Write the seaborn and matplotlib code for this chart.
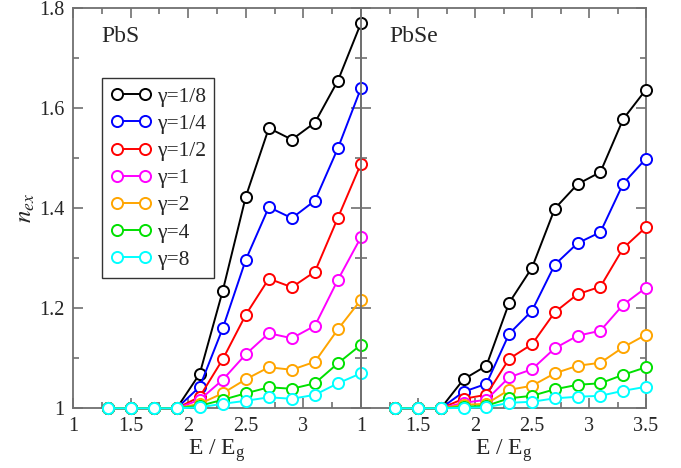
import numpy as np
import pandas as pd
import matplotlib
matplotlib.use("Agg")
import matplotlib.pyplot as plt
import seaborn as sns

# ---- data ----
energy = [1.3, 1.5, 1.7, 1.9, 2.1, 2.3, 2.5, 2.7, 2.9, 3.1, 3.3, 3.5]
gammas = ["γ=1/8", "γ=1/4", "γ=1/2", "γ=1", "γ=2", "γ=4", "γ=8"]
colors = ["#000000", "#0000ff", "#ff0000", "#ff00ff", "#ffa500", "#00e000", "#00ffff"]

pbs_g1_8 = [1.0, 1.0, 1.0, 1.0, 1.069, 1.235, 1.423, 1.560, 1.537, 1.571, 1.655, 1.770]
pbs_g1_4 = [1.0, 1.0, 1.0, 1.0, 1.043, 1.160, 1.297, 1.402, 1.380, 1.415, 1.520, 1.640]
pbs_g1_2 = [1.0, 1.0, 1.0, 1.0, 1.023, 1.098, 1.187, 1.259, 1.242, 1.273, 1.381, 1.489]
pbs_g1 = [1.0, 1.0, 1.0, 1.0, 1.017, 1.057, 1.108, 1.150, 1.140, 1.165, 1.257, 1.342]
pbs_g2 = [1.0, 1.0, 1.0, 1.0, 1.009, 1.030, 1.058, 1.082, 1.077, 1.093, 1.158, 1.217]
pbs_g4 = [1.0, 1.0, 1.0, 1.0, 1.005, 1.017, 1.030, 1.042, 1.039, 1.050, 1.090, 1.127]
pbs_g8 = [1.0, 1.0, 1.0, 1.0, 1.002, 1.009, 1.015, 1.022, 1.019, 1.027, 1.050, 1.070]

pbse_g1_8 = [1.0, 1.0, 1.0, 1.058, 1.085, 1.211, 1.281, 1.399, 1.448, 1.472, 1.578, 1.637]
pbse_g1_4 = [1.0, 1.0, 1.0, 1.033, 1.049, 1.149, 1.195, 1.287, 1.330, 1.352, 1.449, 1.499]
pbse_g1_2 = [1.0, 1.0, 1.0, 1.019, 1.027, 1.099, 1.128, 1.192, 1.228, 1.243, 1.320, 1.362]
pbse_g1 = [1.0, 1.0, 1.0, 1.011, 1.017, 1.062, 1.078, 1.120, 1.145, 1.155, 1.207, 1.241]
pbse_g2 = [1.0, 1.0, 1.0, 1.007, 1.009, 1.037, 1.045, 1.070, 1.085, 1.091, 1.122, 1.147]
pbse_g4 = [1.0, 1.0, 1.0, 1.003, 1.005, 1.020, 1.025, 1.038, 1.047, 1.050, 1.067, 1.082]
pbse_g8 = [1.0, 1.0, 1.0, 1.001, 1.002, 1.011, 1.013, 1.020, 1.023, 1.025, 1.035, 1.043]

pbs_series = [pbs_g1_8, pbs_g1_4, pbs_g1_2, pbs_g1, pbs_g2, pbs_g4, pbs_g8]
pbse_series = [pbse_g1_8, pbse_g1_4, pbse_g1_2, pbse_g1, pbse_g2, pbse_g4, pbse_g8]

xticks = [1, 1.5, 2, 2.5, 3, 3.5]
left_xlabels = ["1", "1.5", "2", "2.5", "3", ""]
right_xlabels = ["1", "1.5", "2", "2.5", "3", "3.5"]
yticks = [1.0, 1.2, 1.4, 1.6, 1.8]
ylabels = ["1", "1.2", "1.4", "1.6", "1.8"]

# ---- style ----
sns.set_style("ticks")
plt.rcParams["font.family"] = ["Liberation Serif", "DejaVu Serif"]
plt.rcParams["mathtext.fontset"] = "stix"

fig = plt.figure(figsize=(6.81, 4.68), dpi=100)
ax1 = fig.add_axes([73 / 681, 1 - 408.3 / 468, 288 / 681, 400.3 / 468])
ax2 = fig.add_axes([361 / 681, 1 - 408.3 / 468, 285 / 681, 400.3 / 468])
ax2.patch.set_facecolor("none")

spine_col = "#707070"


def draw(ax, series):
    for vals, name, col in zip(series, gammas, colors):
        df = pd.DataFrame({"E": energy, "n": vals})
        sns.lineplot(data=df, x="E", y="n", ax=ax, color=col, linewidth=1.4,
                     marker="o", markersize=8, markerfacecolor="white",
                     markeredgecolor=col, markeredgewidth=1.4, legend=False,
                     clip_on=False, zorder=3)
    ax.set_xlim(1, 3.5)
    ax.set_ylim(1, 1.8)
    ax.set_xticks(xticks)
    ax.set_xticks(np.arange(1, 3.51, 0.25), minor=True)
    ax.set_yticks(yticks)
    ax.set_yticks(np.arange(1, 1.81, 0.1), minor=True)
    ax.tick_params(which="both", direction="in", top=True, right=True,
                   color=spine_col, width=1.2, labelsize=14.5, pad=6)
    ax.tick_params(which="major", length=7)
    ax.tick_params(which="minor", length=4)
    for s in ax.spines.values():
        s.set_color(spine_col)
        s.set_linewidth(1.3)
    ax.set_xlabel("E / E$_\\mathregular{g}$", fontsize=17, labelpad=1)


draw(ax1, pbs_series)
draw(ax2, pbse_series)

ax1.set_xticklabels(left_xlabels)
ax2.set_xticklabels(right_xlabels)
ax1.set_yticklabels(ylabels)
ax2.set_yticklabels([])
ax1.set_ylabel("$n_{ex}$", fontsize=18, labelpad=2)
ax2.set_ylabel("")

ax1.text(0.10, 0.955, "PbS", transform=ax1.transAxes, fontsize=17, va="top", ha="left")
ax2.text(0.10, 0.955, "PbSe", transform=ax2.transAxes, fontsize=17, va="top", ha="left")

handles = ax1.get_lines()[:len(gammas)]
leg = ax1.legend(handles, gammas, loc="upper left", bbox_to_anchor=(0.0997, 0.825),
                 borderaxespad=0, fontsize=15.5, numpoints=2, handlelength=1.9,
                 handletextpad=0.25, labelspacing=0.33, borderpad=0.4,
                 fancybox=False, frameon=True, edgecolor="black")
leg.get_frame().set_linewidth(1.0)
leg.set_zorder(5)

fig.savefig("out.png", dpi=100)
